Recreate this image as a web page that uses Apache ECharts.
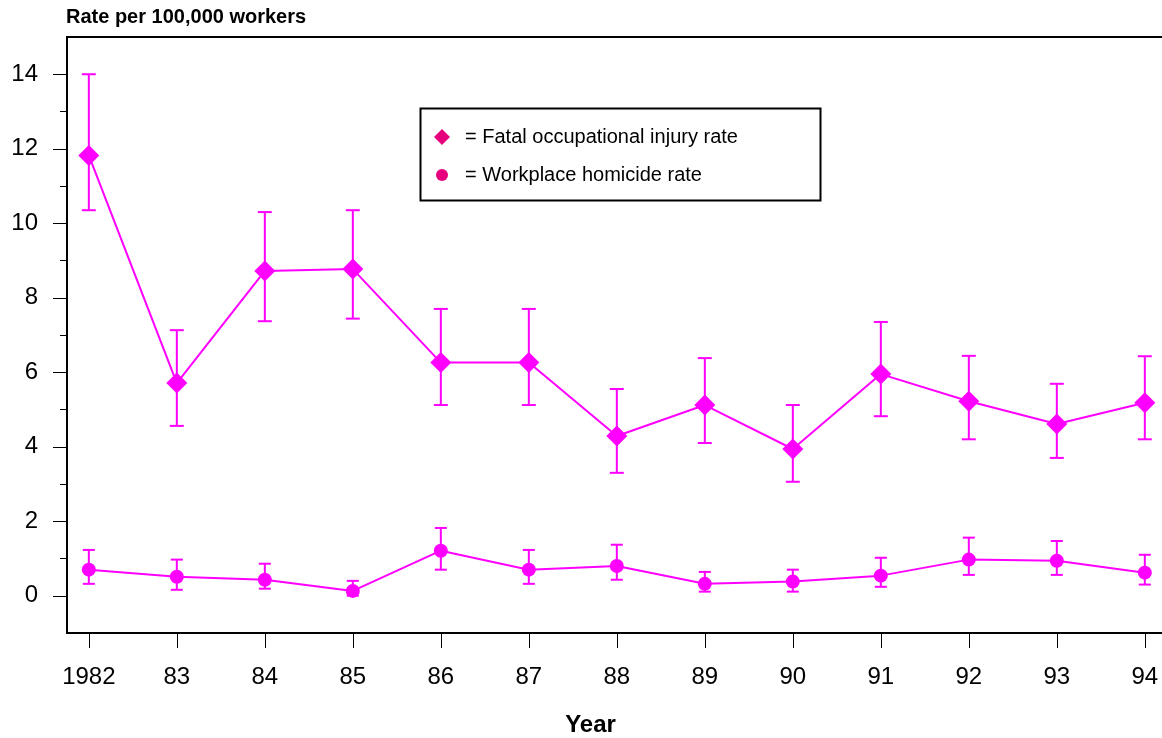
<!DOCTYPE html>
<html>
<head>
<meta charset="utf-8">
<script src="https://cdn.jsdelivr.net/npm/echarts@6/dist/echarts.min.js"></script>
<style>
  html, body { margin: 0; padding: 0; background: #fff; }
  #chart { width: 1162px; height: 738px; }
</style>
</head>
<body>
<div id="chart"></div>
<script>
// data
var years = [1982, 1983, 1984, 1985, 1986, 1987, 1988, 1989, 1990, 1991, 1992, 1993, 1994];

var fatalRate = [11.82, 5.71, 8.72, 8.77, 6.26, 6.26, 4.29, 5.12, 3.94, 5.95, 5.22, 4.61, 5.18];
var fatalLow  = [10.35, 4.56, 7.37, 7.44, 5.12, 5.12, 3.30, 4.10, 3.06, 4.82, 4.20, 3.70, 4.20];
var fatalHigh = [14.00, 7.13, 10.30, 10.35, 7.70, 7.70, 5.55, 6.38, 5.12, 7.35, 6.44, 5.69, 6.43];

var homRate = [0.70, 0.51, 0.43, 0.13, 1.21, 0.70, 0.80, 0.32, 0.38, 0.54, 0.97, 0.94, 0.62];
var homLow  = [0.32, 0.16, 0.19, 0.00, 0.70, 0.32, 0.43, 0.11, 0.11, 0.24, 0.56, 0.56, 0.30];
var homHigh = [1.23, 0.97, 0.86, 0.40, 1.82, 1.23, 1.37, 0.64, 0.70, 1.02, 1.56, 1.47, 1.10];

var majorTicks = [0, 2, 4, 6, 8, 10, 12, 14];
var minorTicks = [1, 3, 5, 7, 9, 11, 13];

var MAGENTA = '#ff00ff';
var LEGEND_PINK = '#e6007e';
var FONT = '"Liberation Sans", Arial, sans-serif';

function pairs(xs, ys) {
    return xs.map(function (x, i) { return [x, ys[i]]; });
}

function errorData(lo, hi) {
    return years.map(function (y, i) { return [y, lo[i], hi[i]]; });
}

// whisker with caps
function errorBar(capHalf) {
    return function (params, api) {
        var top = api.coord([api.value(0), api.value(2)]);
        var bot = api.coord([api.value(0), api.value(1)]);
        var st = { stroke: MAGENTA, lineWidth: 2 };
        return {
            type: 'group',
            children: [
                { type: 'line', shape: { x1: top[0], y1: top[1], x2: bot[0], y2: bot[1] }, style: st },
                { type: 'line', shape: { x1: top[0] - capHalf, y1: top[1], x2: top[0] + capHalf, y2: top[1] }, style: st },
                { type: 'line', shape: { x1: bot[0] - capHalf, y1: bot[1], x2: bot[0] + capHalf, y2: bot[1] }, style: st }
            ]
        };
    };
}

var chart = echarts.init(document.getElementById('chart'));

chart.setOption({
    backgroundColor: '#fff',
    animation: false,
    textStyle: { fontFamily: FONT },
    title: {
        text: 'Rate per 100,000 workers',
        left: 66,
        top: 7,
        padding: 0,
        textStyle: { fontFamily: FONT, fontSize: 20, fontWeight: 'bold', color: '#000' }
    },
    // plot box runs past the right edge, so no right border shows
    grid: {
        left: 67, top: 37, width: 1105, bottom: 105,
        outerBoundsMode: 'none',
        show: true, borderColor: '#000', borderWidth: 2
    },
    legend: [{
        left: 434,
        top: 127,
        padding: 0,
        itemWidth: 16,
        itemHeight: 16,
        formatter: '= {name}',
        textStyle: { fontFamily: FONT, fontSize: 20, color: '#000', padding: [0, 0, 0, 10] },
        data: [{ name: 'Fatal occupational injury rate', icon: 'diamond', itemStyle: { color: LEGEND_PINK } }]
    }, {
        left: 436,
        top: 165,
        padding: 0,
        itemWidth: 12,
        itemHeight: 12,
        formatter: '= {name}',
        textStyle: { fontFamily: FONT, fontSize: 20, color: '#000', padding: [0, 0, 0, 12] },
        data: [{ name: 'Workplace homicide rate', icon: 'circle', itemStyle: { color: LEGEND_PINK } }]
    }],
    graphic: [{
        type: 'rect',
        left: 418, top: 106,
        shape: { width: 400, height: 92 },
        style: { fill: null, stroke: '#000', lineWidth: 2 },
        z: 10
    }],
    xAxis: {
        type: 'value',
        min: 1981.752,
        max: 1994.309,
        splitLine: { show: false },
        axisLine: { show: true, onZero: false, lineStyle: { color: '#000', width: 2 } },
        axisTick: { show: true, customValues: years, length: 15, lineStyle: { color: '#000', width: 1 } },
        axisLabel: {
            customValues: years,
            margin: 32,
            fontSize: 24,
            color: '#000',
            formatter: function (v) { return v === 1982 ? '1982' : String(v).slice(2); }
        },
        name: 'Year',
        nameLocation: 'middle',
        nameGap: 80,
        nameTextStyle: {
            fontFamily: FONT, fontSize: 24, fontWeight: 'bold', color: '#000',
            padding: [0, 58, 0, 0]
        }
    },
    yAxis: [{
        type: 'value',
        min: -1,
        max: 15,
        interval: 1,
        splitLine: { show: false },
        axisLine: { show: true, onZero: false, lineStyle: { color: '#000', width: 2 } },
        axisTick: { show: true, customValues: majorTicks, length: 14, lineStyle: { color: '#000', width: 1 } },
        axisLabel: { customValues: majorTicks, margin: 29, fontSize: 24, color: '#000' }
    }, {
        type: 'value',
        min: -1,
        max: 15,
        interval: 1,
        position: 'left',
        splitLine: { show: false },
        axisLine: { show: false, onZero: false },
        axisTick: { show: true, customValues: minorTicks, length: 7, lineStyle: { color: '#000', width: 1 } },
        axisLabel: { show: false }
    }],
    series: [{
        name: 'fatal-err',
        type: 'custom',
        renderItem: errorBar(7),
        data: errorData(fatalLow, fatalHigh),
        z: 2
    }, {
        name: 'hom-err',
        type: 'custom',
        renderItem: errorBar(6),
        data: errorData(homLow, homHigh),
        z: 2
    }, {
        name: 'Fatal occupational injury rate',
        type: 'line',
        data: pairs(years, fatalRate),
        symbol: 'diamond',
        symbolSize: 21,
        lineStyle: { color: MAGENTA, width: 2 },
        itemStyle: { color: MAGENTA },
        z: 3
    }, {
        name: 'Workplace homicide rate',
        type: 'line',
        data: pairs(years, homRate),
        symbol: 'circle',
        symbolSize: 14,
        lineStyle: { color: MAGENTA, width: 2 },
        itemStyle: { color: MAGENTA },
        z: 3
    }]
});
</script>
</body>
</html>
